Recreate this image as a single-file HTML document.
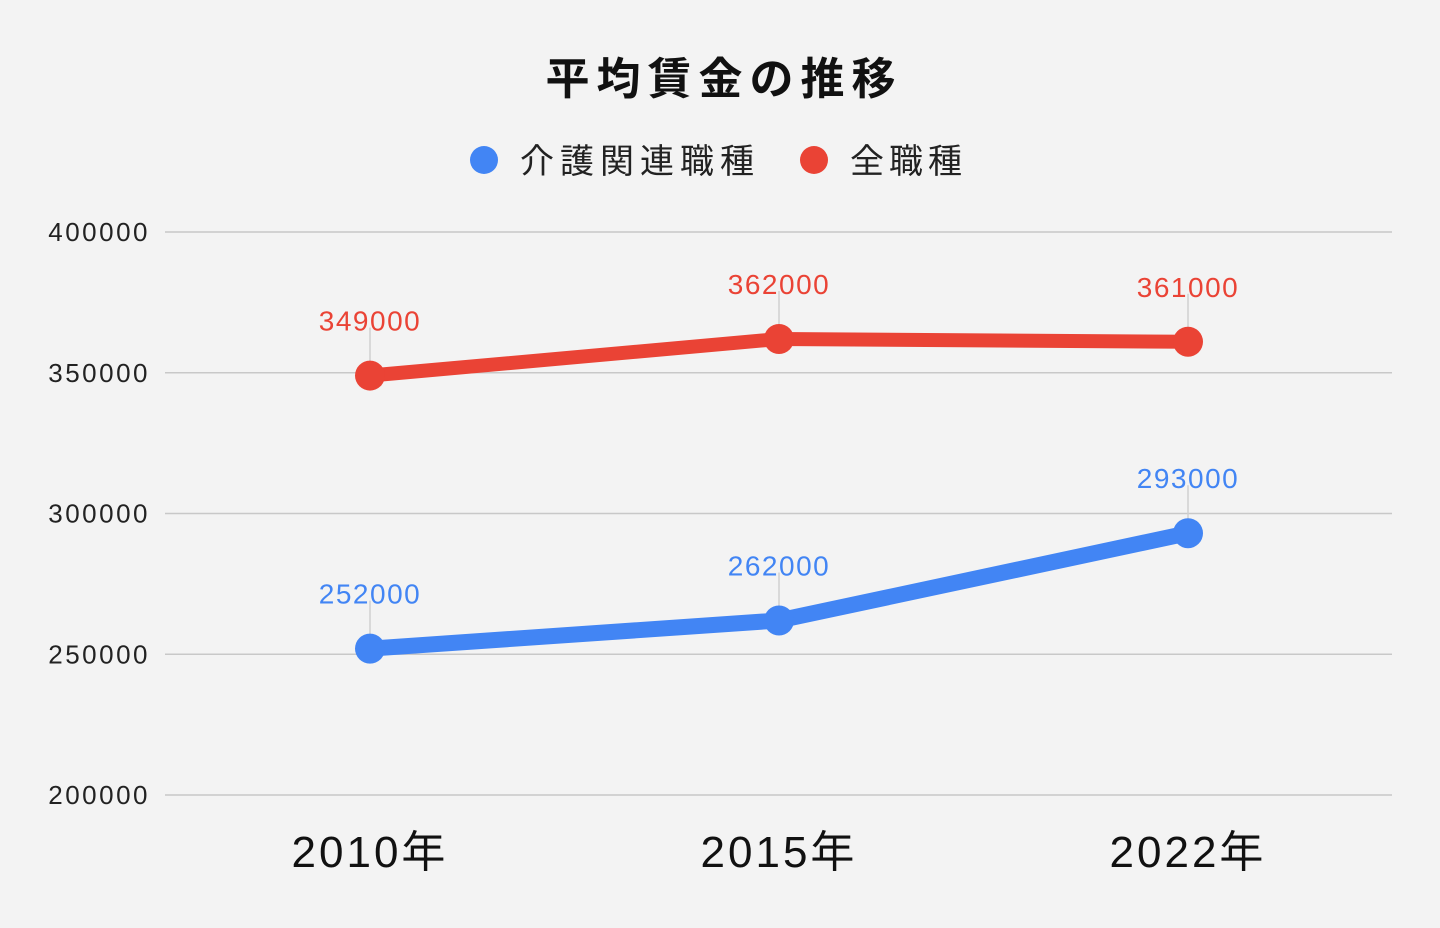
<!DOCTYPE html>
<html><head><meta charset="utf-8">
<style>
html,body{margin:0;padding:0;background:#f3f3f3;}
svg{display:block;font-family:"Liberation Sans","Noto Sans CJK JP",sans-serif;}
</style></head>
<body>
<svg id="chart" width="1440" height="928">
<rect width="1440" height="928" fill="#f3f3f3"/>
<text x="724" y="94" text-anchor="middle" font-size="44" font-weight="bold" fill="#111" letter-spacing="7">平均賃金の推移</text>
<g>
<circle cx="484" cy="160" r="14" fill="#4285f4"/>
<text x="520" y="173" font-size="34" fill="#222" letter-spacing="6">介護関連職種</text>
<circle cx="814" cy="160" r="14" fill="#ea4335"/>
<text x="850" y="173" font-size="34" fill="#222" letter-spacing="5">全職種</text>
</g>
<g id="grid"></g><g id="marks"></g>
</svg>
<script>
const categories = ["2010年","2015年","2022年"];
const careValues = [252000,262000,293000];
const allValues = [349000,362000,361000];
const yTicks = [200000,250000,300000,350000,400000];
const NS="http://www.w3.org/2000/svg";
const xS = i => 370 + i*409;
const yS = v => 795 - (v-200000)/200000*563;
const grid=document.getElementById('grid'), marks=document.getElementById('marks');
function mk(tag,attrs,parent){const e=document.createElementNS(NS,tag);for(const k in attrs)e.setAttribute(k,attrs[k]);parent.appendChild(e);return e;}
yTicks.forEach(t=>{
  const l=mk('line',{x1:165,x2:1392,y1:yS(t),y2:yS(t),stroke:'#c8c8c8','stroke-width':1.5},grid);
  
  
  const tx=mk('text',{x:150,y:yS(t)+9,'text-anchor':'end','font-size':26,fill:'#222','letter-spacing':2.5},grid);
  tx.textContent=t;
  
  
});
categories.forEach((c,i)=>{
  const tx=mk('text',{x:xS(i),y:867,'text-anchor':'middle','font-size':44,fill:'#111','letter-spacing':3},grid);
  tx.textContent=c;
  
  
});
function series(vals,color,w,name){
  const pts=vals.map((v,i)=>xS(i)+','+yS(v)).join(' ');
  vals.forEach((v,i)=>{
    const ll=mk('line',{x1:xS(i),x2:xS(i),y1:yS(v)-48,y2:yS(v),stroke:'#d0d0d0','stroke-width':1.5},marks);
    
    
  });
  const pl=mk('polyline',{points:pts,fill:'none',stroke:color,'stroke-width':w,'stroke-linejoin':'round','stroke-linecap':'round'},marks);
  
  
  vals.forEach((v,i)=>{
    const c=mk('circle',{cx:xS(i),cy:yS(v),r:15,fill:color},marks);
    
    
    const t=mk('text',{x:xS(i),y:yS(v)-45,'text-anchor':'middle','font-size':28,fill:color,'letter-spacing':1.5},marks);
    t.textContent=v;
    
    
  });
}
series(allValues,'#ea4335',14,'all-occupations');
series(careValues,'#4285f4',16,'care-occupations');
</script>
</body></html>
